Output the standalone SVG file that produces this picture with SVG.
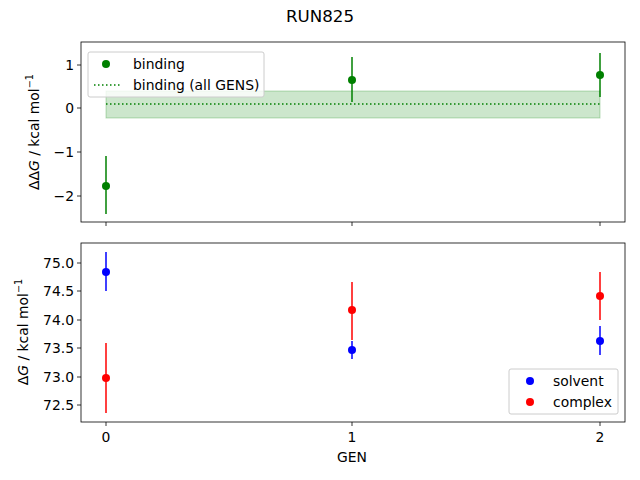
<svg xmlns="http://www.w3.org/2000/svg" width="640" height="480" viewBox="0 0 640 480">
<style>
text{font-family:"DejaVu Sans",sans-serif;font-size:13.9px;fill:#000}
.ax{fill:none;stroke:#000;stroke-width:0.8}
.tk{stroke:#000;stroke-width:0.8}
.g{stroke:green;stroke-width:1.5}
.b{stroke:blue;stroke-width:1.5}
.r{stroke:red;stroke-width:1.5}
</style>
<rect width="640" height="480" fill="#fff"/>
<text x="320" y="22" text-anchor="middle" style="font-size:16.7px">RUN825</text>
<g id="top-axes">
<rect x="106" y="91" width="494" height="27" fill="green" fill-opacity="0.2" stroke="green" stroke-opacity="0.25"/>
<line x1="106" y1="104" x2="600" y2="104" stroke="green" stroke-width="1.5" stroke-dasharray="1.5,2.5"/>
<line class="g" x1="106" y1="156" x2="106" y2="214"/><circle cx="106" cy="186" r="4" fill="green"/>
<line class="g" x1="352" y1="57" x2="352" y2="102"/><circle cx="352" cy="80" r="4" fill="green"/>
<line class="g" x1="600" y1="53" x2="600" y2="97"/><circle cx="600" cy="75" r="4" fill="green"/>
<rect class="ax" x="81" y="42" width="544" height="180"/>
<g class="tk"><line x1="77" y1="65" x2="81" y2="65"/><line x1="77" y1="108" x2="81" y2="108"/><line x1="77" y1="152" x2="81" y2="152"/><line x1="77" y1="196" x2="81" y2="196"/>
<line x1="106" y1="222" x2="106" y2="226"/><line x1="352" y1="222" x2="352" y2="226"/><line x1="600" y1="222" x2="600" y2="226"/></g>
<g text-anchor="end"><text x="74" y="70">1</text><text x="74" y="113">0</text><text x="74" y="157">−1</text><text x="74" y="201">−2</text></g>
<text transform="translate(39,132) rotate(-90)" text-anchor="middle">ΔΔ<tspan font-style="italic">G</tspan> / kcal mol<tspan dy="-6" style="font-size:9.7px">−1</tspan></text>
</g>
<g id="top-legend">
<rect x="88" y="52" width="176" height="45" rx="2" fill="#fff" fill-opacity="0.8" stroke="#ccc"/>
<circle cx="106" cy="64" r="4" fill="green"/><text x="133" y="69">binding</text>
<line x1="94" y1="85" x2="121" y2="85" stroke="green" stroke-width="1.5" stroke-dasharray="1.5,2.5"/><text x="133" y="90">binding (all GENS)</text>
</g>
<g id="bottom-axes">
<line class="b" x1="106" y1="252" x2="106" y2="291"/><circle cx="106" cy="272" r="4" fill="blue"/>
<line class="b" x1="352" y1="341" x2="352" y2="359"/><circle cx="352" cy="350" r="4" fill="blue"/>
<line class="b" x1="600" y1="326" x2="600" y2="355"/><circle cx="600" cy="341" r="4" fill="blue"/>
<line class="r" x1="106" y1="343" x2="106" y2="413"/><circle cx="106" cy="378" r="4" fill="red"/>
<line class="r" x1="352" y1="282" x2="352" y2="340"/><circle cx="352" cy="310" r="4" fill="red"/>
<line class="r" x1="600" y1="272" x2="600" y2="320"/><circle cx="600" cy="296" r="4" fill="red"/>
<rect class="ax" x="81" y="243" width="544" height="179"/>
<g class="tk"><line x1="77" y1="263" x2="81" y2="263"/><line x1="77" y1="291" x2="81" y2="291"/><line x1="77" y1="320" x2="81" y2="320"/><line x1="77" y1="348" x2="81" y2="348"/><line x1="77" y1="377" x2="81" y2="377"/><line x1="77" y1="405" x2="81" y2="405"/>
<line x1="106" y1="422" x2="106" y2="426"/><line x1="352" y1="422" x2="352" y2="426"/><line x1="600" y1="422" x2="600" y2="426"/></g>
<g text-anchor="end"><text x="74" y="268">75.0</text><text x="74" y="296">74.5</text><text x="74" y="325">74.0</text><text x="74" y="353">73.5</text><text x="74" y="382">73.0</text><text x="74" y="410">72.5</text></g>
<g text-anchor="middle"><text x="106" y="442">0</text><text x="352" y="442">1</text><text x="600" y="442">2</text><text x="352" y="462">GEN</text></g>
<text transform="translate(28,332) rotate(-90)" text-anchor="middle">Δ<tspan font-style="italic">G</tspan> / kcal mol<tspan dy="-6" style="font-size:9.7px">−1</tspan></text>
</g>
<g id="bottom-legend">
<rect x="509" y="369" width="109" height="45" rx="2" fill="#fff" fill-opacity="0.8" stroke="#ccc"/>
<circle cx="530" cy="381" r="4" fill="blue"/><text x="553" y="386">solvent</text>
<circle cx="530" cy="402" r="4" fill="red"/><text x="553" y="407">complex</text>
</g>
</svg>
